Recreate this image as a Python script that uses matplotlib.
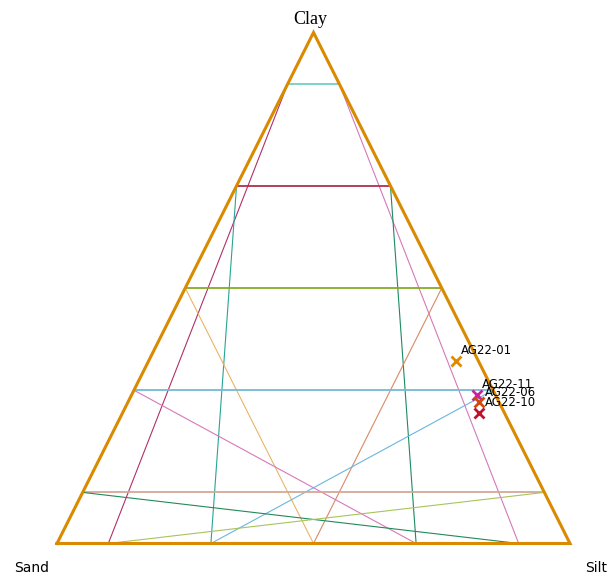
import matplotlib
matplotlib.use("Agg")
import matplotlib.pyplot as plt
import numpy as np

# Sample compositions (fractions of sand, silt, clay)
samples = ["AG22-01", "AG22-11", "AG22-06", "AG22-10"]
sand = [0.044, 0.036, 0.039, 0.049]
silt = [0.599, 0.673, 0.685, 0.696]
clay = [0.357, 0.291, 0.276, 0.255]
sample_colors = ["#e08a00", "#d0209a", "#d04a10", "#c0102c"]

# Clay levels of the guide lines and their colours
levels = [0.9, 0.7, 0.5, 0.3, 0.1]
level_colors = ["#6fd0c8", "#b0304e", "#84ac24", "#74bad6", "#d4a898"]
left_diag_colors = ["#b0306a", "#28a496", "#eab468", "#d878b8", "#228a58"]
right_diag_colors = ["#d47ab8", "#1e8a60", "#d88a66", "#6ab6e0", "#a8c45a"]

corner_labels = ["Sand", "Silt", "Clay"]


def to_xy(sa, si, cl):
    sa, si, cl = np.asarray(sa), np.asarray(si), np.asarray(cl)
    total = sa + si + cl
    return (si + cl / 2) / total, cl / total


fig = plt.figure(figsize=(6.14, 5.79), dpi=100)
ax = fig.add_axes([0, 0, 1, 1])
ax.set_xlim(-57 / 513, (614 - 57) / 513)
ax.set_ylim((543.5 - 579) / 511, 543.5 / 511)
ax.axis("off")

# Guide lines at each clay level
for c, hc, lc, rc in zip(levels, level_colors, left_diag_colors, right_diag_colors):
    # horizontal line across the triangle
    x0, y0 = to_xy(1 - c, 0, c)
    x1, y1 = to_xy(0, 1 - c, c)
    ax.plot([x0, x1], [y0, y1], color=hc, lw=1.3, zorder=2)
    # from the left end down to the base
    xb, yb = to_xy(c, 1 - c, 0)
    ax.plot([x0, xb], [y0, yb], color=lc, lw=0.8, zorder=2)
    # from the right end down to the base
    xb2, yb2 = to_xy(1 - c, c, 0)
    ax.plot([x1, xb2], [y1, yb2], color=rc, lw=0.8, zorder=2)

# Triangle outline
tx, ty = to_xy([1, 0, 0, 1], [0, 1, 0, 0], [0, 0, 1, 0])
ax.plot(tx, ty, color="#d98a00", lw=2.2, zorder=3, solid_joinstyle="miter")

# Samples
px, py = to_xy(sand, silt, clay)
for name, x, y, col in zip(samples, px, py, sample_colors):
    ax.plot(x, y, marker="x", ms=7.5, mew=2, color=col, ls="none", zorder=4)
    ax.annotate(name, (x, y), xytext=(3.8, 7.5), textcoords="offset points",
                fontsize=8.5, va="center", ha="left", zorder=5)

# Corner labels
ax.text(31.5 / 513 - 57 / 513, (543.5 - 568) / 511, corner_labels[0],
        fontsize=10, ha="center", va="center")
ax.text((596.5 - 57) / 513, (543.5 - 568) / 511, corner_labels[1],
        fontsize=10, ha="center", va="center")
ax.text((310 - 57) / 513, (543.5 - 19) / 511, corner_labels[2],
        fontsize=13, ha="center", va="center", family="Liberation Serif")

fig.savefig("out.png", dpi=100)
